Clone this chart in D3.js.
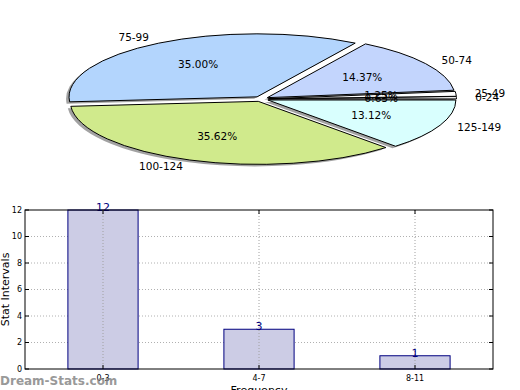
<!DOCTYPE html>
<html lang="en">
<head>
<meta charset="utf-8">
<script src="https://cdn.jsdelivr.net/npm/d3@7/dist/d3.min.js"></script>
<style>
  body { margin: 0; background: #fff; }
  svg { font-family: "DejaVu Sans", sans-serif; }
</style>
</head>
<body>
<svg width="520" height="390"></svg>
<script>
// pie data (score ranges, percent of total)
const pieLabels = ["0-24", "25-49", "50-74", "75-99", "100-124", "125-149"];
const piePercents = [0.63, 1.25, 14.37, 35.00, 35.62, 13.12];
const pieColors = ["#e8e8e8", "#ffffff", "#c3d5fd", "#b3d5fd", "#d0ea8c", "#d9fffe"];

// bar data
const barCats = ["0-3", "4-7", "8-11"];
const barValues = [12, 3, 1];
const yTicks = [0, 2, 4, 6, 8, 10, 12];

const svg = d3.select("svg");

// ---- pie ----
const cx = 261, cy = 99, rx = 188, ry = 63, explode = 0.04;

// matplotlib style: start at east, go counterclockwise
const pie = d3.pie().sort(null).startAngle(Math.PI / 2).endAngle(Math.PI / 2 - 2 * Math.PI);
const arcs = pie(piePercents);
const arc = d3.arc().innerRadius(0).outerRadius(1);

const mid = d => (d.startAngle + d.endAngle) / 2;
// unit direction in svg coords
const dir = d => [Math.sin(mid(d)), -Math.cos(mid(d))];

const pieG = svg.append("g");

// shadows
pieG.selectAll("path.shadow")
  .data(arcs)
  .join("path")
  .attr("class", "shadow")
  .attr("transform", d => {
    const [ux, uy] = dir(d);
    return `translate(${cx + ux * explode * rx - 3},${cy + uy * explode * ry + 2}) scale(${rx},${ry})`;
  })
  .attr("d", arc)
  .attr("fill", "#555")
  .attr("opacity", 0.55);

pieG.selectAll("path.slice")
  .data(arcs)
  .join("path")
  .attr("class", "slice")
  .attr("transform", d => {
    const [ux, uy] = dir(d);
    return `translate(${cx + ux * explode * rx},${cy + uy * explode * ry}) scale(${rx},${ry})`;
  })
  .attr("d", arc)
  .attr("fill", (d, i) => pieColors[i])
  .attr("stroke", "#000")
  .attr("stroke-width", 1)
  .attr("vector-effect", "non-scaling-stroke");

// outer labels
pieG.selectAll("text.lab")
  .data(arcs)
  .join("text")
  .attr("class", "lab")
  .attr("x", d => cx + dir(d)[0] * (explode + 1.1) * rx)
  .attr("y", d => cy + dir(d)[1] * (explode + 1.1) * ry)
  .attr("dy", "0.35em")
  .attr("text-anchor", d => dir(d)[0] > 0 ? "start" : "end")
  .attr("font-size", 10.5)
  .attr("fill", "#000")
  .text((d, i) => pieLabels[i]);

// percentage labels
pieG.selectAll("text.pct")
  .data(arcs)
  .join("text")
  .attr("class", "pct")
  .attr("x", d => cx + dir(d)[0] * (explode + 0.6) * rx)
  .attr("y", d => cy + dir(d)[1] * (explode + 0.6) * ry)
  .attr("dy", "0.35em")
  .attr("text-anchor", "middle")
  .attr("font-size", 10.5)
  .attr("fill", "#000")
  .text((d, i) => piePercents[i].toFixed(2) + "%");

// ---- bar chart ----
const m = { left: 25, right: 493, top: 210, bottom: 369 };

const x = d3.scaleBand()
  .domain(barCats)
  .range([m.left, m.right])
  .paddingInner(0.55)
  .paddingOuter(0.275);

const y = d3.scaleLinear().domain([0, 12]).range([m.bottom, m.top]);

const g = svg.append("g");

// grid
g.selectAll("line.hgrid")
  .data(yTicks.slice(1, -1))
  .join("line")
  .attr("x1", m.left).attr("x2", m.right)
  .attr("y1", d => y(d)).attr("y2", d => y(d))
  .attr("stroke", "#b0b0b0")
  .attr("stroke-dasharray", "1,2");

// bars
g.selectAll("rect")
  .data(barValues)
  .join("rect")
  .attr("x", (d, i) => x(barCats[i]))
  .attr("y", d => y(d))
  .attr("width", x.bandwidth())
  .attr("height", d => y(0) - y(d))
  .attr("fill", "#cccce5")
  .attr("stroke", "#000080")
  .attr("stroke-width", 1);

g.selectAll("line.vgrid")
  .data(barCats)
  .join("line")
  .attr("x1", d => x(d) + x.bandwidth() / 2).attr("x2", d => x(d) + x.bandwidth() / 2)
  .attr("y1", m.top).attr("y2", m.bottom)
  .attr("stroke", "#a0a0a0")
  .attr("stroke-dasharray", "1,2");

// value labels
g.selectAll("text.val")
  .data(barValues)
  .join("text")
  .attr("class", "val")
  .attr("x", (d, i) => x(barCats[i]) + x.bandwidth() / 2)
  .attr("y", d => y(d) + 1)
  .attr("text-anchor", "middle")
  .attr("font-size", 11)
  .attr("fill", "#000080")
  .text(d => d);

// frame
g.append("rect")
  .attr("x", m.left).attr("y", m.top)
  .attr("width", m.right - m.left).attr("height", m.bottom - m.top)
  .attr("fill", "none")
  .attr("stroke", "#000")
  .attr("stroke-width", 1);

// y ticks (inward, both sides)
yTicks.forEach(t => {
  g.append("line").attr("x1", m.left).attr("x2", m.left + 4)
    .attr("y1", y(t)).attr("y2", y(t)).attr("stroke", "#000");
  g.append("line").attr("x1", m.right).attr("x2", m.right - 4)
    .attr("y1", y(t)).attr("y2", y(t)).attr("stroke", "#000");
});
g.selectAll("text.ytick")
  .data(yTicks)
  .join("text")
  .attr("class", "ytick")
  .attr("x", m.left - 3)
  .attr("y", d => y(d))
  .attr("dy", "0.35em")
  .attr("text-anchor", "end")
  .attr("font-size", 8)
  .text(d => d);

// x ticks
barCats.forEach(c => {
  const cxp = x(c) + x.bandwidth() / 2;
  g.append("line").attr("x1", cxp).attr("x2", cxp)
    .attr("y1", m.bottom).attr("y2", m.bottom - 4).attr("stroke", "#000");
  g.append("line").attr("x1", cxp).attr("x2", cxp)
    .attr("y1", m.top).attr("y2", m.top + 4).attr("stroke", "#000");
});
g.selectAll("text.xtick")
  .data(barCats)
  .join("text")
  .attr("class", "xtick")
  .attr("x", d => x(d) + x.bandwidth() / 2)
  .attr("y", m.bottom + 12)
  .attr("text-anchor", "middle")
  .attr("font-size", 8)
  .text(d => d);

// axis titles
g.append("text")
  .attr("transform", `translate(9,${(m.top + m.bottom) / 2}) rotate(-90)`)
  .attr("text-anchor", "middle")
  .attr("font-size", 11)
  .text("Stat Intervals");

g.append("text")
  .attr("x", (m.left + m.right) / 2)
  .attr("y", 394)
  .attr("text-anchor", "middle")
  .attr("font-size", 11)
  .text("Frequency");

// watermark
svg.append("text")
  .attr("x", 0)
  .attr("y", 385)
  .attr("font-size", 12)
  .attr("font-weight", "bold")
  .attr("fill", "#888")
  .attr("opacity", 0.85)
  .text("Dream-Stats.com");
</script>
</body>
</html>
